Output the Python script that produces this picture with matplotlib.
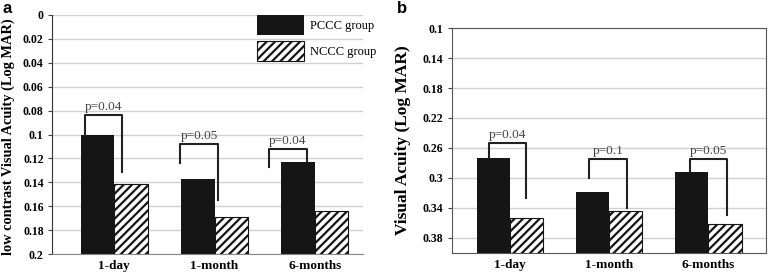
import matplotlib.pyplot as plt
import numpy as np

plt.rcParams['font.family'] = 'Liberation Serif'
plt.rcParams['hatch.linewidth'] = 1.6

periods = ['1-day', '1-month', '6-months']
groups = ['PCCC group', 'NCCC group']

# a: low contrast visual acuity (LogMAR)
lc_pccc = [0.100, 0.137, 0.123]
lc_nccc = [0.141, 0.169, 0.164]
# b: visual acuity (LogMAR)
va_pccc = [0.274, 0.319, 0.292]
va_nccc = [0.354, 0.344, 0.361]

# significance brackets: top, left leg end, right leg end, leg x offsets, label
a_top = [0.084, 0.108, 0.112]
a_left_end = [0.100, 0.124, 0.127]
a_right_end = [0.131, 0.155, 0.123]
a_left_x = [-0.29, -0.34, -0.455]
a_right_x = [0.08, 0.03, -0.083]
a_p = ['p=0.04', 'p=0.05', 'p=0.04']

b_top = [0.253, 0.275, 0.275]
b_left_end = [0.274, 0.300, 0.292]
b_right_end = [0.327, 0.340, 0.349]
b_left_x = [-0.21, -0.197, -0.181]
b_right_x = [0.164, 0.181, 0.191]
b_p = ['p=0.04', 'p=0.1', 'p=0.05']

fig = plt.figure(figsize=(7.68, 2.72), dpi=100)
ax_a = fig.add_axes([0.0677, 0.066, 0.405, 0.879])
ax_b = fig.add_axes([0.588, 0.070, 0.41, 0.827])

x = np.arange(len(periods))
w = 0.334


def panel(ax, pccc, nccc, bottom, ticks, top, lend, rend, lx, rx, ptxt):
    ax.bar(x - w / 2, np.array(pccc) - bottom, w, bottom=bottom,
           color='#151515', label=groups[0], zorder=3)
    ax.bar(x + w / 2, np.array(nccc) - bottom, w, bottom=bottom,
           color='white', edgecolor='#151515', hatch='////', linewidth=0.8,
           label=groups[1], zorder=3)
    for i in range(len(periods)):
        xl, xr = x[i] + lx[i], x[i] + rx[i]
        ax.plot([xl, xl, xr, xr], [lend[i], top[i], top[i], rend[i]],
                color='#222222', lw=1.5, zorder=4)
        ax.annotate(ptxt[i], ((xl + xr) / 2, top[i]), xytext=(0, 1.5),
                    textcoords='offset points', ha='center', va='bottom',
                    fontsize=9.5, color='#444444', zorder=5)
    ax.set_yticks(ticks)
    ax.set_yticklabels(['%g' % t for t in ticks], fontweight='bold', fontsize=8.5)
    ax.set_xticks(x)
    ax.set_xticklabels(periods, fontweight='bold', fontsize=9.5)
    ax.tick_params(axis='x', length=0, pad=4)
    ax.tick_params(axis='y', length=3, pad=3, color='#444444')
    ax.yaxis.grid(True, color='#d0d0d0', lw=1)
    ax.set_axisbelow(True)


ticks_a = [0, 0.02, 0.04, 0.06, 0.08, 0.1, 0.12, 0.14, 0.16, 0.18, 0.2]
panel(ax_a, lc_pccc, lc_nccc, 0.2, ticks_a, a_top, a_left_end, a_right_end,
      a_left_x, a_right_x, a_p)
ax_a.set_ylim(0.2, 0)
ax_a.set_xlim(-0.62, 2.48)
for s in ['top', 'right']:
    ax_a.spines[s].set_visible(False)
ax_a.spines['left'].set_color('#333333')
ax_a.spines['bottom'].set_color('#888888')
ax_a.set_ylabel('low contrast Visual Acuity (Log MAR)', fontweight='bold', fontsize=10.4)
ax_a.yaxis.set_label_coords(-0.119, 0.49)
ax_a.legend(loc='upper left', bbox_to_anchor=(0.658, 1.0), frameon=False,
            handlelength=3.8, handleheight=2.1, labelspacing=0.5,
            borderpad=0, borderaxespad=0, handletextpad=0.45, fontsize=9)

ticks_b = [0.1, 0.14, 0.18, 0.22, 0.26, 0.3, 0.34, 0.38]
panel(ax_b, va_pccc, va_nccc, 0.4, ticks_b, b_top, b_left_end, b_right_end,
      b_left_x, b_right_x, b_p)
ax_b.set_ylim(0.4, 0.1)
ax_b.set_xlim(-0.585, 2.585)
for s in ax_b.spines.values():
    s.set_color('#555555')
ax_b.set_ylabel('Visual Acuity (Log MAR)', fontweight='bold', fontsize=12.5)
ax_b.yaxis.set_label_coords(-0.130, 0.5)

fig.text(0.003, 0.97, 'a', fontfamily='Liberation Sans', fontweight='bold',
         fontsize=12, va='center', ha='left')
fig.text(0.517, 0.97, 'b', fontfamily='Liberation Sans', fontweight='bold',
         fontsize=12, va='center', ha='left')

fig.savefig('out.png', dpi=100)
